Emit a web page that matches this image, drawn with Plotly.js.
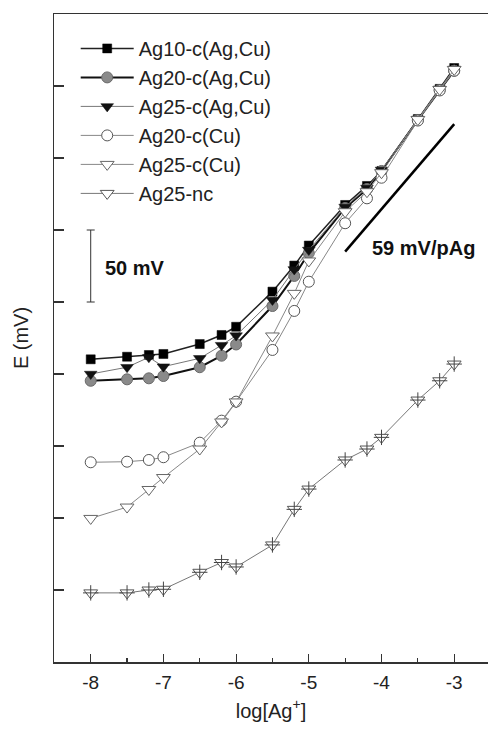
<!DOCTYPE html>
<html>
<head>
<meta charset="utf-8">
<script src="https://cdn.plot.ly/plotly-3.0.1.min.js"></script>
<style>html,body{margin:0;padding:0;background:#fff;}#chart{width:488px;height:729px;}</style>
</head>
<body>
<div id="chart"></div>
<script>
// log[Ag+] values (x)
const logAg = [-8, -7.5, -7.2, -7, -6.5, -6.2, -6, -5.5, -5.2, -5, -4.5, -4.2, -4, -3.5, -3.2, -3];
// Potentials in mV (arbitrary offset, 50 mV per y tick)
const ag10_AgCu = [160.2, 162.0, 163.2, 163.9, 170.8, 177.1, 182.8, 207.2, 225.3, 239.2, 267.4, 280.6, 291.0, 327.1, 348.0, 362.5];
const ag20_AgCu = [145.3, 146.3, 147.0, 148.6, 154.7, 162.7, 170.5, 197.2, 218.1, 234.0, 265.3, 278.5, 291.0, 326.4, 347.2, 360.6];
const ag25_AgCu = [150.0, 154.7, 161.6, 155.1, 160.9, 170.0, 176.7, 201.4, 222.6, 236.1, 266.0, 279.2, 291.7, 327.1, 348.0, 361.8];
const ag20_Cu   = [88.7, 89.1, 90.3, 92.2, 102.3, 117.6, 130.8, 166.7, 193.8, 214.1, 254.7, 272.0, 286.3, 326.0, 346.9, 360.6];
const ag25_Cu   = [49.7, 57.6, 69.8, 78.1, 97.9, 116.7, 130.6, 176.4, 206.0, 228.5, 262.7, 276.6, 289.8, 326.7, 347.6, 361.5];
const ag25_nc   = [-2.0, -2.0, 0.0, 0.5, 12.3, 19.1, 16.0, 31.3, 56.0, 70.1, 90.3, 97.9, 106.0, 131.9, 145.3, 156.9];

const seriesNames = ['Ag10-c(Ag,Cu)', 'Ag20-c(Ag,Cu)', 'Ag25-c(Ag,Cu)', 'Ag20-c(Cu)', 'Ag25-c(Cu)', 'Ag25-nc'];
const xTickVals = [-8, -7, -6, -5, -4, -3];
const xTickText = ['-8', '-7', '-6', '-5', '-4', '-3'];
const yTickVals = [0, 50, 100, 150, 200, 250, 300, 350];

// scale bar (50 mV) and Nernst slope reference (59 mV/pAg)
const scaleBarX = -8, scaleBarY = [200, 250];
const slopeX = [-4.5, -3.0];
const nernst = 59;
const slopeY0 = 235;

function tr(name, y, sym, mcol, mline, mlw, size, lcol, lw, extra) {
  return Object.assign({
    type: 'scatter', mode: 'lines+markers', name: name, x: logAg, y: y,
    legendgroup: name,
    line: {color: lcol, width: lw},
    marker: {symbol: sym, size: size, color: mcol, line: {color: mline, width: mlw}}
  }, extra || {});
}

const traces = [
  tr(seriesNames[0], ag10_AgCu, 'square', '#000', '#000', 0.5, 9, '#222', 1.5),
  tr(seriesNames[1], ag20_AgCu, 'circle', '#8a8a8a', '#6a6a6a', 1, 11, '#111', 2),
  tr(seriesNames[2], ag25_AgCu, 'triangle-down', '#111', '#111', 0.5, 11, '#777', 1),
  tr(seriesNames[3], ag20_Cu, 'circle', '#fff', '#555', 1, 11, '#888', 1),
  tr(seriesNames[4], ag25_Cu, 'triangle-down', '#fff', '#666', 1, 12, '#888', 1),
  tr(seriesNames[5], ag25_nc, 'triangle-down', '#fff', '#555', 1, 12, '#777', 1),
  {type: 'scatter', mode: 'markers', x: logAg, y: ag25_nc, showlegend: false, hoverinfo: 'skip',
   legendgroup: seriesNames[5],
   marker: {symbol: 'cross-thin-open', size: 11, color: '#444', line: {color: '#444', width: 1}}}
];

const layout = {
  width: 488, height: 729,
  margin: {l: 54, r: 0, t: 14, b: 67},
  paper_bgcolor: '#fff', plot_bgcolor: '#fff',
  font: {family: 'Liberation Sans, Arial, sans-serif', color: '#222'},
  showlegend: true,
  legend: {
    x: 0.05, y: 0.977, xanchor: 'left', yanchor: 'top',
    bgcolor: 'rgba(0,0,0,0)', borderwidth: 0,
    font: {size: 20, color: '#222'},
    itemwidth: 53, traceorder: 'grouped', tracegroupgap: 0
  },
  xaxis: {
    range: [-8.505, -2.535], showgrid: false, zeroline: false,
    showline: true, linecolor: '#333', linewidth: 1.5, mirror: true,
    ticks: 'inside', ticklen: 8, tickwidth: 1.2, tickcolor: '#333',
    tickvals: xTickVals, ticktext: xTickText,
    tickfont: {size: 19, color: '#222'}, ticklabelstandoff: 3,
    minor: {tickvals: [-8.5, -7.5, -6.5, -5.5, -4.5, -3.5, -2.5], ticks: 'inside', ticklen: 4, tickwidth: 1.2, tickcolor: '#333'},
    title: {text: 'log[Ag<sup>+</sup>]', font: {size: 20, color: '#222'}, standoff: 11}
  },
  yaxis: {
    range: [-50, 400], showgrid: false, zeroline: false,
    showline: true, linecolor: '#333', linewidth: 1.5,
    ticks: 'inside', ticklen: 10, tickwidth: 1.2, tickcolor: '#333',
    tickvals: yTickVals, showticklabels: false,
    title: {text: 'E (mV)', font: {size: 20, color: '#222'}, standoff: 18}
  },
  shapes: [
    {type: 'line', xref: 'x', yref: 'y', x0: scaleBarX, x1: scaleBarX, y0: scaleBarY[0], y1: scaleBarY[1], line: {color: '#333', width: 1}},
    {type: 'line', xref: 'x', yref: 'y', x0: scaleBarX - 0.055, x1: scaleBarX + 0.055, y0: scaleBarY[0], y1: scaleBarY[0], line: {color: '#333', width: 1}},
    {type: 'line', xref: 'x', yref: 'y', x0: scaleBarX - 0.055, x1: scaleBarX + 0.055, y0: scaleBarY[1], y1: scaleBarY[1], line: {color: '#333', width: 1}},
    {type: 'line', xref: 'x', yref: 'y', x0: slopeX[0], x1: slopeX[1], y0: slopeY0, y1: slopeY0 + nernst * (slopeX[1] - slopeX[0]), line: {color: '#000', width: 2.5}}
  ],
  annotations: [
    {xref: 'x', yref: 'y', x: -7.83, y: 223.6, xanchor: 'left', yanchor: 'middle', showarrow: false,
     text: '<b>50 mV</b>', font: {size: 20, color: '#111'}},
    {xref: 'x', yref: 'y', x: -4.158, y: 237.5, xanchor: 'left', yanchor: 'middle', showarrow: false,
     text: '<b>59 mV/pAg</b>', font: {size: 20, color: '#111'}}
  ]
};

Plotly.newPlot('chart', traces, layout, {displayModeBar: false, staticPlot: true});
</script>
</body>
</html>
